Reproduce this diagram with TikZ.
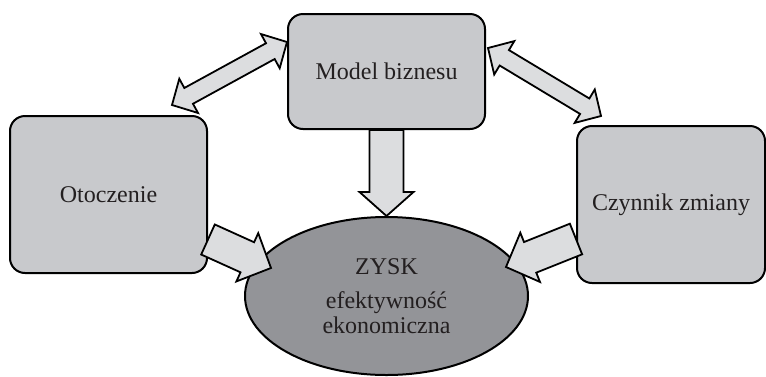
\documentclass[tikz,border=0pt]{standalone}
\usepackage{fontspec}
\setmainfont{Liberation Serif}
\usepackage{tikz}
\usetikzlibrary{calc,shapes.geometric}

\definecolor{prostokat}{RGB}{200,201,204}
\definecolor{elipsa}{RGB}{147,148,152}
\definecolor{strzalka}{RGB}{220,221,223}
\definecolor{tekst}{RGB}{35,31,32}

\tikzset{
  ramka/.style={draw=black, line width=1pt, fill=prostokat, rounded corners=7.5pt},
  strzalka/.style n args={3}{draw=black, fill=strzalka, line width=0.9pt, line join=miter,
    to path={($(\tikztostart)!#1!-90:(\tikztotarget)$)
      -- ($(\tikztotarget)!#3!(\tikztostart)!#1!-90:(\tikztotarget)$)
      -- ($(\tikztotarget)!#3!(\tikztostart)!#2!-90:(\tikztotarget)$)
      -- (\tikztotarget)
      -- ($(\tikztotarget)!#3!(\tikztostart)!#2!90:(\tikztotarget)$)
      -- ($(\tikztotarget)!#3!(\tikztostart)!#1!90:(\tikztotarget)$)
      -- ($(\tikztostart)!#1!90:(\tikztotarget)$) -- cycle}},
  dwustrzalka/.style n args={3}{draw=black, fill=strzalka, line width=0.9pt, line join=miter,
    to path={(\tikztostart)
      -- ($(\tikztostart)!#3!(\tikztotarget)!#2!-90:(\tikztotarget)$)
      -- ($(\tikztostart)!#3!(\tikztotarget)!#1!-90:(\tikztotarget)$)
      -- ($(\tikztotarget)!#3!(\tikztostart)!#1!-90:(\tikztotarget)$)
      -- ($(\tikztotarget)!#3!(\tikztostart)!#2!-90:(\tikztotarget)$)
      -- (\tikztotarget)
      -- ($(\tikztotarget)!#3!(\tikztostart)!#2!90:(\tikztotarget)$)
      -- ($(\tikztotarget)!#3!(\tikztostart)!#1!90:(\tikztotarget)$)
      -- ($(\tikztostart)!#3!(\tikztotarget)!#1!90:(\tikztotarget)$)
      -- ($(\tikztostart)!#3!(\tikztotarget)!#2!90:(\tikztotarget)$) -- cycle}}
}

\begin{document}
\begin{tikzpicture}[x=0.5pt,y=-0.5pt]
    \tikzstyle{every node}+=[inner sep=0pt, text=tekst, font=\fontsize{12pt}{12.5pt}\selectfont]
    \useasboundingbox (0,0) rectangle (766,376);
    \node [ramka, minimum width=98.5pt, minimum height=57.5pt] (model) at (386.5,71.5) {Model biznesu};
    \node [ramka, minimum width=98.5pt, minimum height=78.5pt] (otoczenie) at (108.5,194.5) {Otoczenie};
    \node [ramka, minimum width=94pt, minimum height=78.5pt] (czynnik) at (671,204.5) {Czynnik zmiany};
    \node [ellipse, draw=black, line width=1pt, fill=elipsa, minimum width=141.5pt, minimum height=79pt, align=center] (zysk) at (386.5,296) {ZYSK\\[4.5pt]efektywność\\ekonomiczna};
    \draw [dwustrzalka={4.5pt}{9.75pt}{9.5pt}] ($(otoczenie.north)+(63.5,-10)$) to ($(model.west)+(0,-29.5)$);
    \draw [dwustrzalka={4.5pt}{9.75pt}{9.5pt}] ($(model.east)+(2,-23.5)$) to ($(czynnik.north)+(-70,-9)$);
    \draw [strzalka={8.5pt}{13.5pt}{12pt}] (model.south) to (zysk.north);
    \draw [strzalka={8.25pt}{13.25pt}{13pt}] ($(otoczenie.east)+(0,45)$) to ($(zysk.west)+(27,-28)$);
    \draw [strzalka={8.25pt}{13.25pt}{13pt}] ($(czynnik.west)+(0,34.5)$) to ($(zysk.east)+(-23,-29)$);
\end{tikzpicture}
\end{document}
